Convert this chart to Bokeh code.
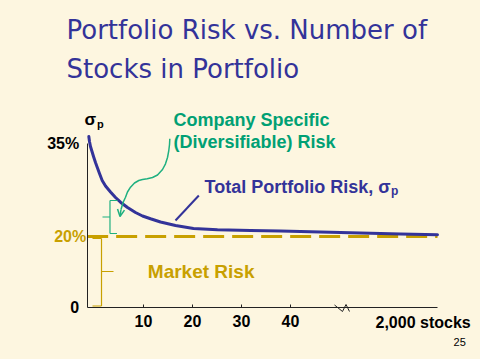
from bokeh.plotting import figure
from bokeh.models import Range1d, FixedTicker, Arrow, OpenHead, LinearAxis
from bokeh.core.properties import value
from bokeh.embed import file_html
from bokeh.resources import INLINE

# ---- data (schematic chart: x in "stock count" axis units, the break end stands for 2,000 stocks;
#      y in chart units where the dashed market-risk level is 20 and the top label 35% sits at 46.1)
stocks = [-1.16, -1.02, -0.82, -0.51, -0.20, 0.20, 0.61, 1.02, 1.57, 2.25, 3.27, 4.29, 5.31,
          6.74, 8.37, 9.80, 11.43, 13.47, 16.53, 20.20, 25.10, 31.84, 37.96, 46.12, 54.29,
          62.45, 70.0]
total_risk = [48.05, 46.65, 45.25, 43.84, 42.44, 40.76, 39.22, 37.68, 35.72, 34.18, 32.50,
              30.94, 29.62, 28.13, 26.73, 25.75, 24.97, 24.07, 23.09, 22.25, 21.88, 21.68,
              21.51, 21.26, 20.98, 20.70, 20.48]
market_risk = 20
axis_start = -1.5

x_ticks = [10, 20, 30, 40]
x_tick_labels = ["10", "20", "30", "40"]
y_ticks = [0, 46.1]
y_tick_labels = ["0", "35%"]

# annotation geometry (chart units)
green_arrow_x = [15.37, 15.31, 15.16, 14.90, 14.49, 13.88, 12.86, 11.84, 10.76, 9.80, 9.04,
                 8.16, 7.35, 6.73, 6.33, 5.92, 5.65, 5.41]
green_arrow_y = [47.41, 45.81, 44.12, 42.16, 40.39, 38.79, 37.25, 36.54, 36.19, 35.99, 35.71,
                 35.01, 33.83, 32.48, 31.02, 29.82, 28.70, 27.57]
green_arrow_tip = (5.20, 25.61)
green_brace_xs = [[3.16, 3.16], [3.16, 4.69], [3.16, 4.59], [1.63, 3.16]]
green_brace_ys = [[30.10, 20.84], [30.10, 30.10], [20.84, 20.84], [25.47, 25.47]]
gold_brace_xs = [[1.43, 1.43], [-0.41, 1.43], [-0.41, 1.43], [1.43, 3.88]]
gold_brace_ys = [[19.44, 0.50], [19.44, 19.44], [0.50, 0.50], [10.18, 10.18]]
pointer_x = [21.29, 16.53]
pointer_y = [31.50, 24.49]
break_x = [48.98, 50.61, 51.33, 52.04]
break_y = [0.79, -1.04, 0.93, -1.04]

BG = "#FDF6E0"
BLUE = "#333399"
GREEN = "#00A074"
GREEN_LINE = "#1FB080"
GOLD = "#C8A000"
FONT = value("Liberation Sans")

W, H = 480, 359
p = figure(width=W, height=H, output_backend="svg", toolbar_location=None,
           x_range=Range1d(-19.184, 78.776), y_range=Range1d(-14.502, 61.515),
           min_border_left=0, min_border_right=0, min_border_bottom=0, min_border_top=88,
           background_fill_color=BG, border_fill_color=BG, outline_line_color=None,
           x_axis_location=None, y_axis_location=None)
p.grid.visible = False

p.title.text = "Portfolio Risk vs. Number of\nStocks in Portfolio"
p.title.text_font = "DejaVu Sans"
p.title.text_font_size = "26px"
p.title.text_font_style = "normal"
p.title.text_color = BLUE
p.title.align = "left"
p.title.text_line_height = 1.3
p.title.offset = 66

xa = LinearAxis(fixed_location=0, bounds=(axis_start, stocks[-1]))
xa.ticker = FixedTicker(ticks=x_ticks)
xa.major_label_overrides = dict(zip(x_ticks, x_tick_labels))
xa.minor_tick_line_color = None
xa.major_tick_in = 3
xa.major_tick_out = 0
xa.major_label_standoff = 7
xa.axis_line_color = "#222222"
xa.major_tick_line_color = "#222222"
xa.major_label_text_font = "Liberation Sans"
xa.major_label_text_font_style = "bold"
xa.major_label_text_font_size = "16px"
xa.major_label_text_color = "black"
p.add_layout(xa, "below")

ya = LinearAxis(fixed_location=axis_start, bounds=(0, 46))
ya.ticker = FixedTicker(ticks=y_ticks)
ya.major_label_overrides = dict(zip(y_ticks, y_tick_labels))
ya.minor_tick_line_color = None
ya.major_tick_in = 0
ya.major_tick_out = 0
ya.major_label_standoff = 8
ya.axis_line_color = "#222222"
ya.major_label_text_font = "Liberation Sans"
ya.major_label_text_font_style = "bold"
ya.major_label_text_font_size = "16px"
ya.major_label_text_color = "black"
ya.major_label_orientation = "horizontal"
p.add_layout(ya, "left")

# market risk level (dashed) and total risk curve
p.line([axis_start, stocks[-1]], [market_risk, market_risk], line_color=GOLD, line_width=3,
       line_dash="21 8")
p.line(stocks, total_risk, line_color=BLUE, line_width=3, line_join="round", line_cap="round")

# axis break
p.line(break_x, break_y, line_color="#222222", line_width=1)

# braces, arrows
p.multi_line(green_brace_xs, green_brace_ys, line_color=GREEN_LINE, line_width=1.2)
p.multi_line(gold_brace_xs, gold_brace_ys, line_color=GOLD, line_width=1.2)
p.line(green_arrow_x, green_arrow_y, line_color=GREEN_LINE, line_width=1.5, line_join="round")
p.add_layout(Arrow(end=OpenHead(size=7, line_color=GREEN_LINE, line_width=1.5),
                   line_color=GREEN_LINE, line_width=1.5,
                   x_start=green_arrow_x[-1], y_start=green_arrow_y[-1],
                   x_end=green_arrow_tip[0], y_end=green_arrow_tip[1]))
p.line(pointer_x, pointer_y, line_color=BLUE, line_width=2)

def txt(x, y, s, color, size, style="bold", align="left", baseline="middle", x_offset=0):
    p.text(x=[x], y=[y], text=[s], text_color=color, text_font=FONT,
           text_font_size=size, text_font_style=style, text_align=align,
           text_baseline=baseline, x_offset=x_offset)

txt(16.12, 52.54, "Company Specific", GREEN, "18px")
txt(16.12, 46.45, "(Diversifiable) Risk", GREEN, "18px")
txt(22.45, 33.83, "Total Portfolio Risk, σ", BLUE, "18px")
txt(60.5, 32.68, "p", BLUE, "12px")
txt(10.88, 10.24, "Market Risk", GOLD, "19px")
txt(-2.04, 52.8, "σ", "black", "17px")
txt(0.5, 51.64, "p", "black", "11px")
txt(axis_start, market_risk, "20%", GOLD, "16px", align="right", x_offset=-1)
txt(57.35, -4.26, "2,000 stocks", "black", "16px")
txt(73.27, -9.73, "25", "black", "11px", style="normal")

html = file_html(p, INLINE)
html = html.replace("<head>", "<head><style>body{background:#FDF6E0;}</style>", 1)
open("out.html", "w").write(html)
